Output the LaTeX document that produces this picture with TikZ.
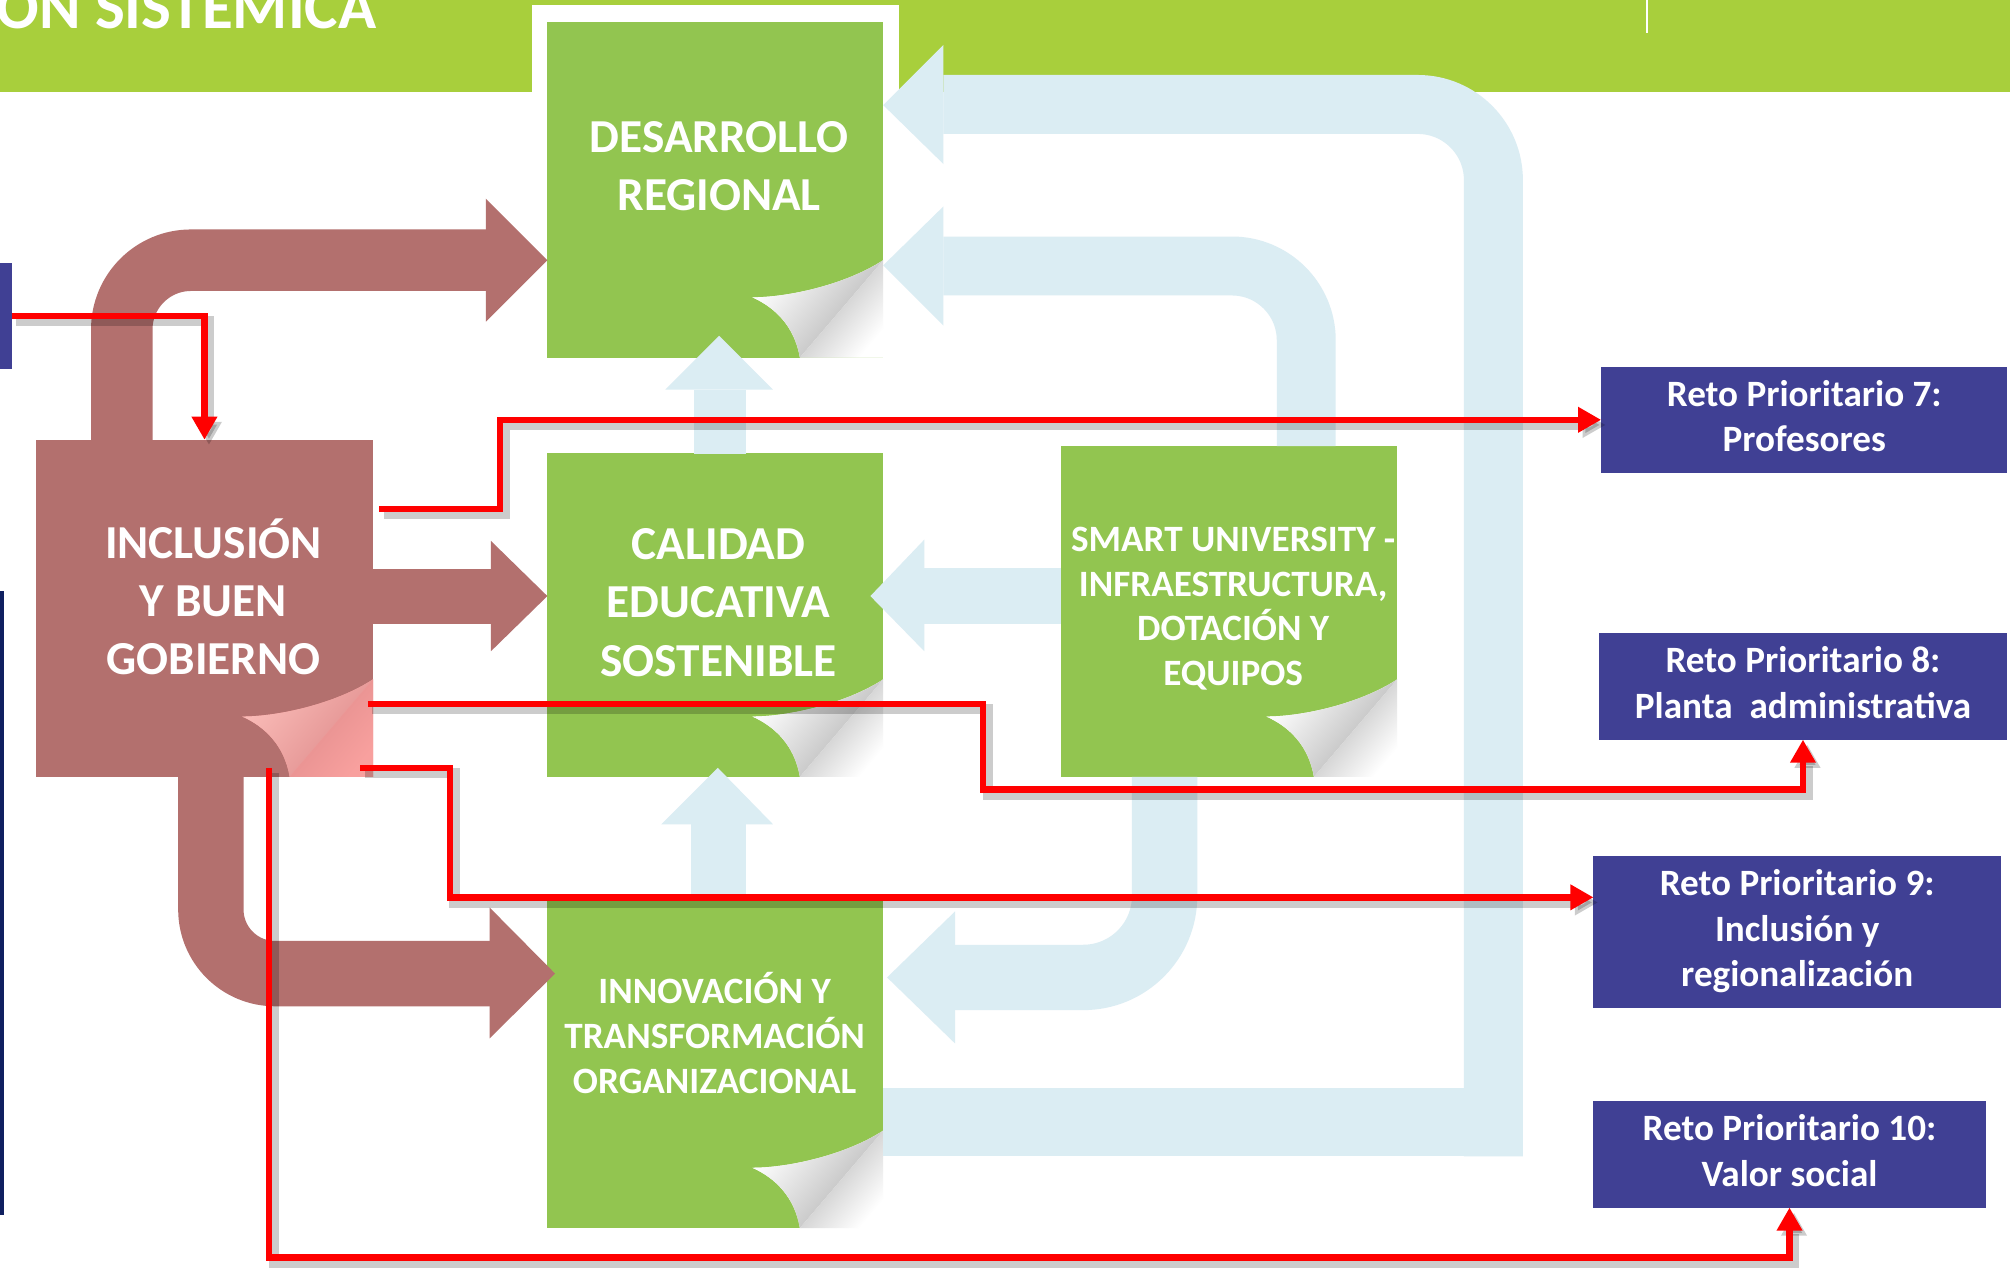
\documentclass[tikz,border=0pt]{standalone}
\usepackage{fontspec}
\setmainfont{Carlito}
\usetikzlibrary{arrows.meta}

\definecolor{hdrgreen}{RGB}{168,207,60}
\definecolor{boxgreen}{RGB}{146,197,80}
\definecolor{flowblue}{RGB}{219,237,243}
\definecolor{flowbrown}{RGB}{179,112,110}
\definecolor{retoblue}{RGB}{64,64,148}
\definecolor{navyline}{RGB}{16,32,96}
\definecolor{curlgray}{RGB}{175,175,175}
\definecolor{curlpink}{RGB}{248,160,158}
\definecolor{pinklight}{RGB}{250,188,184}
\definecolor{pinkdark}{RGB}{222,138,138}

\tikzset{
  gbox/.style={fill=boxgreen, inner sep=0pt, outer sep=0pt},
  bbox/.style={fill=flowbrown, inner sep=0pt, outer sep=0pt},
  reto/.style={fill=retoblue, text=white, align=center, inner sep=0pt, outer sep=0pt,
    minimum height=1.66cm, font=\fontsize{16.5}{20.2}\selectfont\bfseries},
  bigtxt/.style={text=white, align=center, inner sep=0pt,
    font=\fontsize{21}{25.9}\selectfont\bfseries},
  smalltxt/.style={text=white, align=center, inner sep=0pt,
    font=\fontsize{16.5}{19.9}\selectfont\bfseries},
  redline/.style={draw=red, line width=0.1cm, -{Triangle[length=0.36cm,width=0.38cm]},
    preaction={draw=black, opacity=0.2, line width=0.16cm,
      transform canvas={shift={(0.07cm,-0.08cm)}}}},
}

% folded corner at the south east of a box
\newcommand{\pagecurl}[4]{%
  \begin{scope}[shift={(#1.south east)}]
    \fill[#4] (0,-76) .. controls (-29,-57) and (-74,-47) .. (-102,-47)
      .. controls (-84,-39) and (-69,-24) .. (-65,0) -- (0,0) -- cycle;
    \shade[top color=#2, bottom color=#3, shading angle=50]
      (0,-76) .. controls (-29,-57) and (-74,-47) .. (-102,-47)
      .. controls (-84,-39) and (-69,-24) .. (-65,0) -- cycle;
    \shade[top color=#3, bottom color=#4, shading angle=50]
      (0,-76) -- (-65,0) -- (0,0) -- cycle;
  \end{scope}}

\begin{document}
\begin{tikzpicture}[x=0.02cm, y=-0.02cm]
  \useasboundingbox (0,0) rectangle (1568,989);
  \clip (0,0) rectangle (1568,989);
  \fill[white] (0,0) rectangle (1568,989);

  % header band
  \fill[hdrgreen] (0,0) rectangle (1568,72);
  \node[anchor=base west, inner sep=0pt, text=white,
    font=\fontsize{28}{30}\selectfont\bfseries] (title) at (-3,22) {ON SISTEMICA};
  \draw[white, line width=0.03cm] (1284.5,0) -- (1284.5,26);
  \fill[white] (415,4) rectangle (701,72);

  % cut-off items at the left edge
  \node[fill=retoblue, minimum width=1cm, minimum height=1.66cm, inner sep=0pt] (rprev) at (-16,246.5) {};
  \fill[navyline] (0,461) rectangle (3,948);

  % --- boxes ---
  \node[gbox, minimum width=5.24cm, minimum height=5.24cm] (des) at (558,148) {};
  \node[gbox, minimum width=5.24cm, minimum height=5.06cm] (cal) at (558,479.5) {};
  \node[gbox, minimum width=5.24cm, minimum height=5.22cm] (inn) at (558,827.5) {};
  \node[gbox, minimum width=5.24cm, minimum height=5.16cm] (smart) at (959,477) {};
  \node[bbox, minimum width=5.26cm, minimum height=5.26cm] (inc) at (159.5,474.5) {};

  \pagecurl{des}{white}{curlgray}{white}
  \pagecurl{cal}{white}{curlgray}{white}
  \pagecurl{inn}{white}{curlgray}{white}
  \pagecurl{smart}{white}{curlgray}{white}
  \pagecurl{inc}{pinklight}{pinkdark}{curlpink}

  \node[bigtxt] (desT) at (561,132.6) {\strut DESARROLLO\\REGIONAL\strut};
  \node[bigtxt] (calT) at (560.5,472.9) {\strut CALIDAD\\EDUCATIVA\\SOSTENIBLE\strut};
  \node[bigtxt] (incT) at (166.5,471.9) {\strut INCLUSIÓN\\Y BUEN\\GOBIERNO\strut};
  \node[smalltxt] (smartT) at (962,475.5) {\strut SMART UNIVERSITY -\\INFRAESTRUCTURA,\\DOTACIÓN Y\\EQUIPOS\strut};
  \node[smalltxt] (innT) at (557.5,811) {\strut INNOVACIÓN Y\\TRANSFORMACIÓN\\ORGANIZACIONAL\strut};

  \node[reto, minimum width=6.34cm] (r7) at (1407.5,327.5) {\strut Reto Prioritario 7:\\Profesores\strut};
  \node[reto, minimum width=6.38cm] (r8) at (1406.5,535.5) {\strut Reto Prioritario 8:\\Planta\ \ administrativa\strut};
  \node[reto, minimum width=6.36cm, minimum height=2.36cm] (r9) at (1402,727) {\strut Reto Prioritario 9:\\Inclusión y\\regionalización\strut};
  \node[reto, minimum width=6.12cm] (r10) at (1396,900.5) {\strut Reto Prioritario 10:\\Valor social\strut};

  % --- light blue feedback arrows ---
  \fill[flowblue] (689,849) rectangle (1188,902);
  \draw[flowblue, line width=0.92cm, rounded corners=1.18cm] (1165,902) -- (1165,81.5) -- (736,81.5);
  \fill[flowblue] (736,35) -- (689,82) -- (736,128) -- cycle;

  \draw[flowblue, line width=0.92cm, rounded corners=1.16cm] (1019,348) -- (1019,207.5) -- (736,207.5);
  \fill[flowblue] (736,161) -- (689,207) -- (736,254) -- cycle;

  \fill[flowblue] (721,443) rectangle (828,487);
  \fill[flowblue] (721,421) -- (679,465) -- (721,508) -- cycle;

  \draw[flowblue, line width=1.02cm, rounded corners=1.27cm] (908.5,606) -- (908.5,762.5) -- (745,762.5);
  \fill[flowblue] (745,711) -- (692,762.5) -- (745,814) -- cycle;

  \fill[flowblue] (541,304) rectangle (582,354);
  \fill[flowblue] (519,304) -- (561,262) -- (603,304) -- cycle;
  \fill[flowblue] (539,643) rectangle (582,698);
  \fill[flowblue] (516,643) -- (560,599) -- (603,643) -- cycle;

  % --- brown arrows ---
  \draw[flowbrown, line width=0.96cm, rounded corners=1.08cm] (95,344) -- (95,203) -- (380,203);
  \fill[flowbrown] (379,155) -- (427,203) -- (379,251) -- cycle;

  \fill[flowbrown] (290,444) rectangle (384,487);
  \fill[flowbrown] (383,422) -- (427,465) -- (383,508) -- cycle;

  \draw[flowbrown, line width=1.02cm, rounded corners=1.0cm] (164.5,605) -- (164.5,759.5) -- (383,759.5);
  \fill[flowbrown] (382,708) -- (433,759.5) -- (382,810) -- cycle;

  % --- red links to the challenges ---
  \coordinate (s7) at (296,397);
  \coordinate (s8) at (287,549);
  \coordinate (s9) at (281,599);
  \coordinate (s10) at (210,599);

  \draw[redline] (rprev.east) -| (inc.north);
  \draw[redline] (s7) -- ++(94,0) |- (r7.west);
  \draw[redline] (s8) -| ++(480,67) -| (r8.south);
  \draw[redline] (s9) -- ++(70,0) |- ([yshift=0.54cm]r9.west);
  \draw[redline] (s10) -- ++(0,382) -| (r10.south);

\end{tikzpicture}
\end{document}
